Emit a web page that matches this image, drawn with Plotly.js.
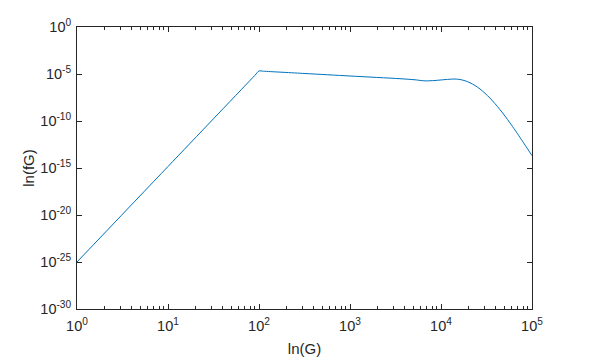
<!DOCTYPE html>
<html>
<head>
<meta charset="utf-8">
<script src="https://cdn.plot.ly/plotly-3.0.1.min.js"></script>
<style>html,body{margin:0;padding:0;background:#fff;}#chart{width:589px;height:358px;}</style>
</head>
<body>
<div id="chart"></div>
<script>
// Data
var G  = [1, 10, 90, 100, 112, 320, 1000, 3540, 5180, 6670, 8590, 11070, 14250, 16170, 18350, 20830, 23640, 26830, 30450, 34560, 39220, 44510, 50510, 57320, 65060, 73830, 83790, 100000];
var fG = [1e-25, 1.45e-15, 7.13e-6, 2.09e-5, 1.97e-5, 1.13e-5, 6.12e-6, 3.16e-6, 2.42e-6, 1.85e-6, 2.04e-6, 2.54e-6, 2.94e-6, 2.60e-6, 1.91e-6, 1.17e-6, 5.98e-7, 2.54e-7, 8.95e-8, 2.70e-8, 7.01e-9, 1.61e-9, 3.32e-10, 6.21e-11, 1.08e-11, 1.76e-12, 2.80e-13, 2.07e-14];

var xTickVals = [1, 10, 100, 1000, 10000, 100000];
var xTickText = ['10<sup>0</sup>', '10<sup>1</sup>', '10<sup>2</sup>', '10<sup>3</sup>', '10<sup>4</sup>', '10<sup>5</sup>'];
var yTickVals = [1e-30, 1e-25, 1e-20, 1e-15, 1e-10, 1e-5, 1];
var yTickText = ['10<sup>-30</sup>', '10<sup>-25</sup>', '10<sup>-20</sup>', '10<sup>-15</sup>', '10<sup>-10</sup>', '10<sup>-5</sup>', '10<sup>0</sup>'];
var xLabel = 'ln(G)';
var yLabel = 'ln(fG)';

var minorX = [];
for (var k = 0; k < 5; k++) {
  for (var m = 2; m <= 9; m++) minorX.push(m * Math.pow(10, k));
}

var axisColor = '#262626';
var fontFam = 'Liberation Sans, Arial, sans-serif';

var trace = {
  x: G, y: fG, type: 'scatter', mode: 'lines',
  line: {color: '#0072BD', width: 1, shape: 'spline', smoothing: 0.8},
  hoverinfo: 'skip'
};

var layout = {
  width: 589, height: 358,
  margin: {l: 77, r: 57, t: 27, b: 49},
  paper_bgcolor: '#ffffff', plot_bgcolor: '#ffffff',
  showlegend: false,
  font: {family: fontFam, size: 14, color: axisColor},
  xaxis: {
    type: 'log', range: [0, 5],
    tickmode: 'array', tickvals: xTickVals, ticktext: xTickText,
    ticks: 'inside', ticklen: 5, tickwidth: 1, tickcolor: axisColor,
    minor: {tickmode: 'array', tickvals: minorX, ticks: 'inside', ticklen: 3, tickwidth: 1, tickcolor: axisColor, showgrid: false},
    showline: true, linecolor: axisColor, linewidth: 1, mirror: 'allticks',
    showgrid: false, zeroline: false,
    ticklabelstandoff: 4,
    tickfont: {family: fontFam, size: 14.5, color: axisColor},
    title: {text: xLabel, font: {family: fontFam, size: 15, color: axisColor}, standoff: 10}
  },
  yaxis: {
    type: 'log', range: [-30, 0],
    tickmode: 'array', tickvals: yTickVals, ticktext: yTickText,
    ticks: 'inside', ticklen: 5, tickwidth: 1, tickcolor: axisColor,
    showline: true, linecolor: axisColor, linewidth: 1, mirror: 'allticks',
    showgrid: false, zeroline: false,
    ticklabelstandoff: 2,
    tickfont: {family: fontFam, size: 14.5, color: axisColor},
    title: {text: yLabel, font: {family: fontFam, size: 15, color: axisColor}, standoff: 2}
  }
};

Plotly.newPlot('chart', [trace], layout, {displayModeBar: false, staticPlot: true});
</script>
</body>
</html>
